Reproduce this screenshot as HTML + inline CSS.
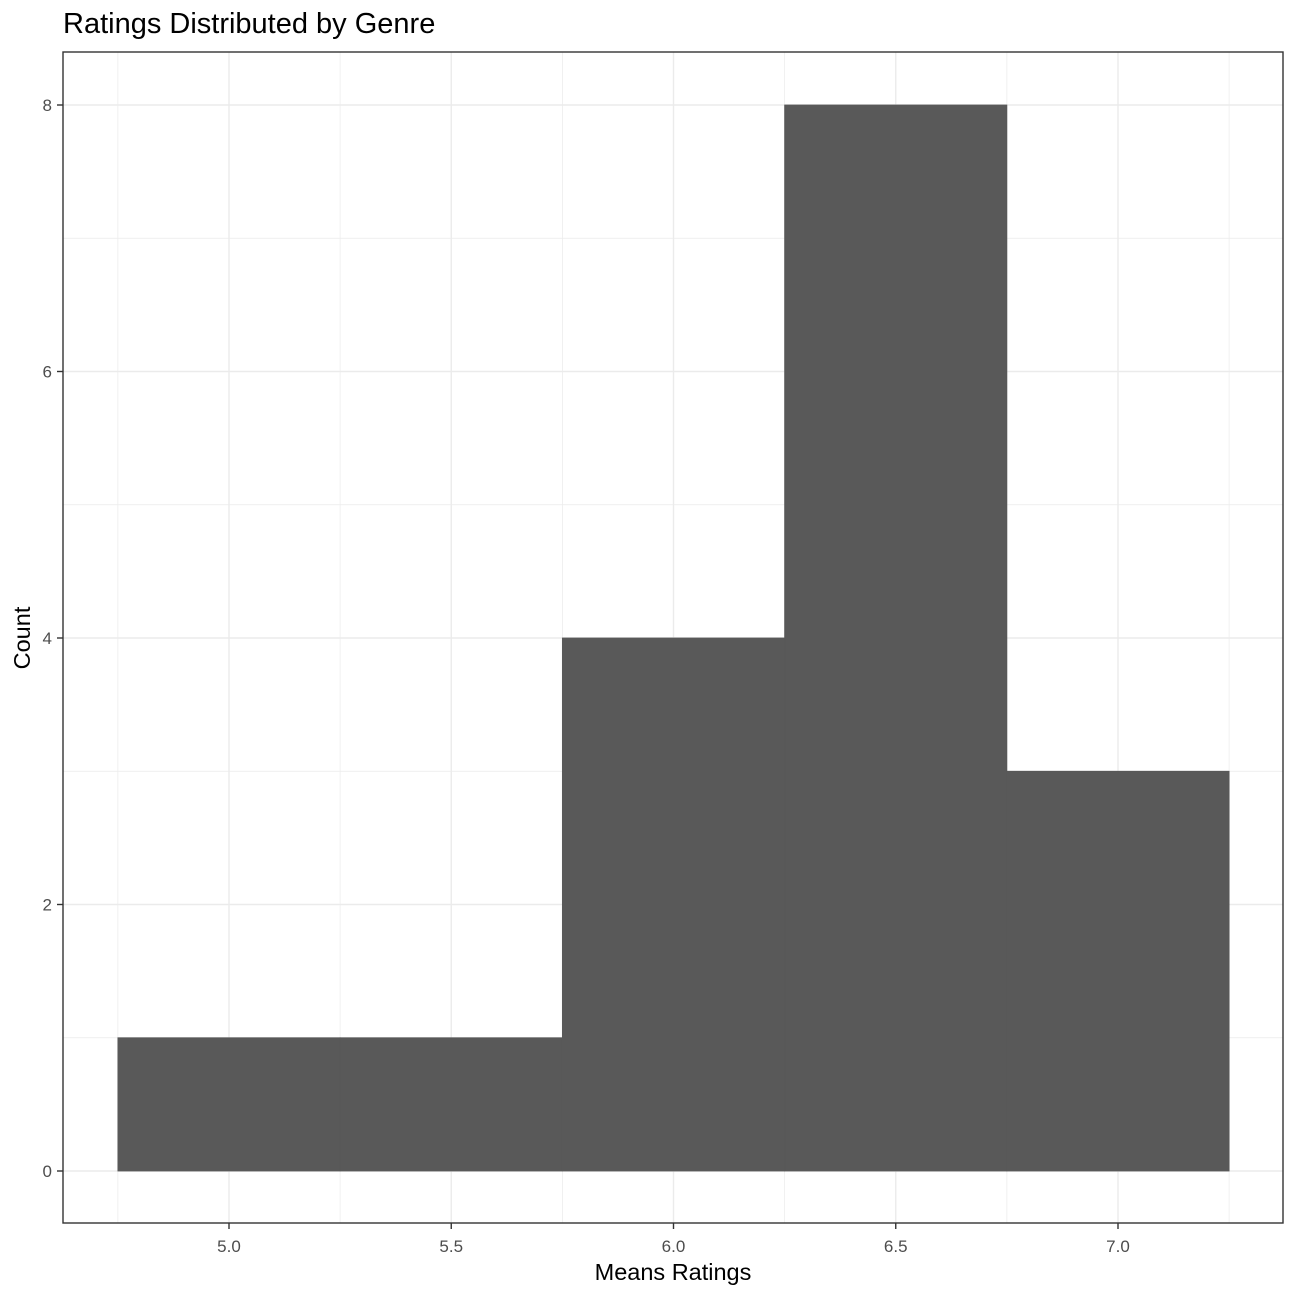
<!DOCTYPE html>
<html><head><meta charset="utf-8"><style>
body{margin:0;background:#fff;font-family:"Liberation Sans",Arial,sans-serif}
</style></head><body>
<svg id="chart" width="1296" height="1296" xmlns="http://www.w3.org/2000/svg">
<rect width="1296" height="1296" fill="#fff"/>
<text x="63" y="33" font-size="29" fill="#000">Ratings Distributed by Genre</text>
<g id="grid"></g>
<g id="bars"></g>
<rect x="63" y="52" width="1220" height="1171" fill="none" stroke="#333" stroke-width="1.4"/>
<g id="axes"></g>
<text x="673" y="1280" font-size="23.5" text-anchor="middle">Means Ratings</text>
<text transform="translate(30,638) rotate(-90)" font-size="23.5" text-anchor="middle">Count</text>
</svg>
<script>
const binStarts=[4.75,5.25,5.75,6.25,6.75];
const binWidth=0.5;
const counts=[1,1,4,8,3];
const xTicks=[5.0,5.5,6.0,6.5,7.0];
const xTickLabels=["5.0","5.5","6.0","6.5","7.0"];
const yTicks=[0,2,4,6,8];
const yTickLabels=["0","2","4","6","8"];
const xMinor=[4.75,5.25,5.75,6.25,6.75,7.25];
const yMinor=[1,3,5,7];
const NS="http://www.w3.org/2000/svg";
const xs=v=>229+(v-5)*(1118-229)/2;
const ys=v=>1171-v*(1171-105)/8;
function mk(tag,attrs,parent){const e=document.createElementNS(NS,tag);for(const k in attrs)e.setAttribute(k,attrs[k]);parent.appendChild(e);return e;}
const grid=document.getElementById('grid'),bars=document.getElementById('bars'),axes=document.getElementById('axes');
xMinor.forEach(v=>{const l=mk('line',{x1:xs(v),x2:xs(v),y1:52,y2:1223,stroke:'#ebebeb','stroke-width':0.7},grid);

});
yMinor.forEach(v=>{const l=mk('line',{x1:63,x2:1283,y1:ys(v),y2:ys(v),stroke:'#ebebeb','stroke-width':0.7},grid);

});
xTicks.forEach((v,i)=>{const l=mk('line',{x1:xs(v),x2:xs(v),y1:52,y2:1223,stroke:'#ebebeb','stroke-width':1.4},grid);


const t=mk('line',{x1:xs(v),x2:xs(v),y1:1223,y2:1229,stroke:'#333','stroke-width':1.4},axes);


const tx=mk('text',{x:xs(v),y:1252,'font-size':17,fill:'#4d4d4d','text-anchor':'middle'},axes);tx.textContent=xTickLabels[i];

});
yTicks.forEach((v,i)=>{const l=mk('line',{x1:63,x2:1283,y1:ys(v),y2:ys(v),stroke:'#ebebeb','stroke-width':1.4},grid);


const t=mk('line',{x1:57,x2:63,y1:ys(v),y2:ys(v),stroke:'#333','stroke-width':1.4},axes);


const tx=mk('text',{x:52,y:ys(v)+6,'font-size':17,fill:'#4d4d4d','text-anchor':'end'},axes);tx.textContent=yTickLabels[i];

});
binStarts.forEach((s,i)=>{const x0=xs(s),x1=xs(s+binWidth),y=ys(counts[i]);
const r=mk('rect',{x:x0,y:y,width:x1-x0,height:ys(0)-y,fill:'#595959',stroke:'#595959','stroke-width':0.8},bars);

});
</script>
</body></html>
